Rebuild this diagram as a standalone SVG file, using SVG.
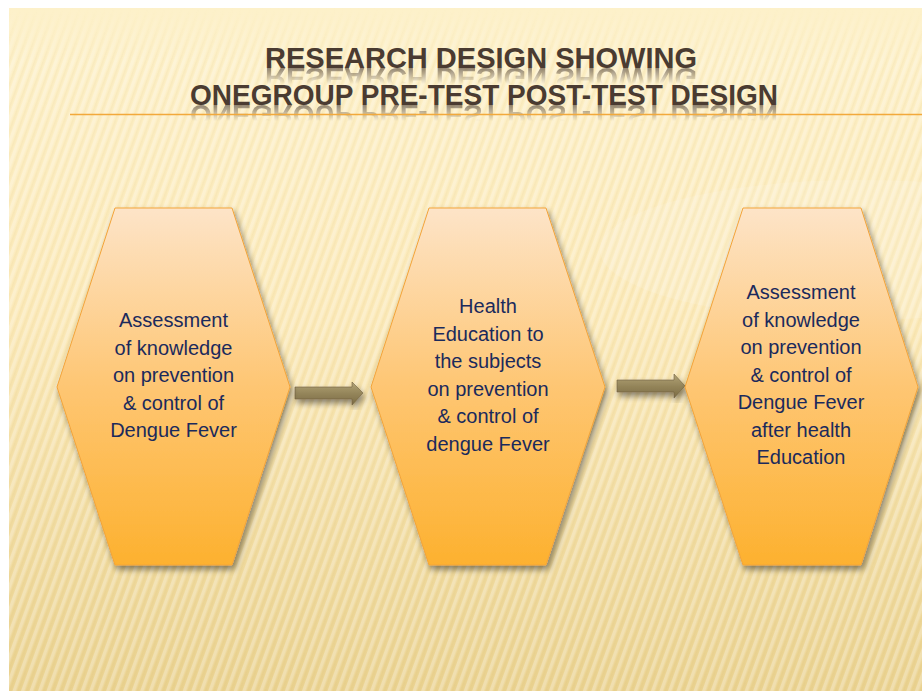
<svg xmlns="http://www.w3.org/2000/svg" width="922" height="691" viewBox="0 0 922 691">
  <defs>
    <linearGradient id="bg" x1="0" y1="0" x2="0" y2="1">
      <stop offset="0" stop-color="#fdf1ca"/>
      <stop offset="0.45" stop-color="#fbe9b8"/>
      <stop offset="1" stop-color="#ead290"/>
    </linearGradient>
    <pattern id="stripes" width="8" height="8" patternUnits="userSpaceOnUse" patternTransform="rotate(20)">
      <rect x="0" y="0" width="3.5" height="8" fill="#ffffff" opacity="0.28"/>
      <rect x="5" y="0" width="1.5" height="8" fill="#c8a850" opacity="0.07"/>
    </pattern>
    <linearGradient id="stripeFade" x1="0" y1="0" x2="0" y2="1">
      <stop offset="0" stop-color="#fff" stop-opacity="0"/>
      <stop offset="0.08" stop-color="#fff" stop-opacity="1"/>
      <stop offset="1" stop-color="#fff" stop-opacity="1"/>
    </linearGradient>
    <mask id="stripeMask">
      <rect x="9" y="8" width="913" height="683" fill="url(#stripeFade)"/>
    </mask>
    <linearGradient id="hexFill" x1="0" y1="0" x2="0" y2="1">
      <stop offset="0" stop-color="#fde4c8"/>
      <stop offset="0.5" stop-color="#fec673"/>
      <stop offset="1" stop-color="#fdb12f"/>
    </linearGradient>
    <linearGradient id="arrowFill" x1="0" y1="0" x2="0" y2="1">
      <stop offset="0" stop-color="#b3a477"/>
      <stop offset="0.5" stop-color="#94855a"/>
      <stop offset="1" stop-color="#7c6c44"/>
    </linearGradient>
    <filter id="shadow" x="-20%" y="-20%" width="140%" height="140%">
      <feGaussianBlur in="SourceAlpha" stdDeviation="3"/>
      <feOffset dx="2" dy="4" result="b"/>
      <feComponentTransfer><feFuncA type="linear" slope="0.45"/></feComponentTransfer>
      <feMerge><feMergeNode/><feMergeNode in="SourceGraphic"/></feMerge>
    </filter>
    <!-- fading masks for the mirrored title lines -->
    <linearGradient id="reflFade1" gradientUnits="userSpaceOnUse" x1="0" y1="68" x2="0" y2="84">
      <stop offset="0" stop-color="#fff" stop-opacity="0.6"/>
      <stop offset="1" stop-color="#fff" stop-opacity="0"/>
    </linearGradient>
    <linearGradient id="reflFade2" gradientUnits="userSpaceOnUse" x1="0" y1="105" x2="0" y2="121">
      <stop offset="0" stop-color="#fff" stop-opacity="0.6"/>
      <stop offset="1" stop-color="#fff" stop-opacity="0"/>
    </linearGradient>
    <mask id="reflMask1" maskUnits="userSpaceOnUse" x="0" y="0" width="922" height="691">
      <rect x="0" y="68" width="922" height="16" fill="url(#reflFade1)"/>
    </mask>
    <mask id="reflMask2" maskUnits="userSpaceOnUse" x="0" y="0" width="922" height="691">
      <rect x="0" y="105" width="922" height="16" fill="url(#reflFade2)"/>
    </mask>
    <style>
      .title { font-family: "Liberation Sans", Arial, sans-serif; font-weight: bold; font-size: 30px; fill: #4a3b31; }
      .label { font-family: "Liberation Sans", Arial, sans-serif; font-size: 20px; fill: #1b2a5c; text-anchor: middle; }
      .hex { fill: url(#hexFill); stroke: #f3a43a; stroke-width: 1; filter: url(#shadow); }
      .arrow { fill: url(#arrowFill); stroke: #6f6040; stroke-width: 0.6; filter: url(#shadow); }
    </style>
  </defs>

  <!-- slide background -->
  <rect x="0" y="0" width="922" height="691" fill="#ffffff"/>
  <rect x="9" y="8" width="913" height="683" fill="url(#bg)"/>
  <rect x="9" y="8" width="913" height="683" fill="url(#stripes)" mask="url(#stripeMask)"/>
  <ellipse cx="860" cy="250" rx="260" ry="70" fill="#ffffff" opacity="0.12"/>

  <!-- title -->
  <g id="title">
    <g mask="url(#reflMask1)">
      <use href="#titleLine1" transform="translate(0,136) scale(1,-1)"/>
    </g>
    <g mask="url(#reflMask2)">
      <use href="#titleLine2" transform="translate(0,210) scale(1,-1)"/>
    </g>
    <text id="titleLine1" class="title" x="265" y="68" textLength="432" lengthAdjust="spacingAndGlyphs">RESEARCH DESIGN SHOWING</text>
    <text id="titleLine2" class="title" x="190" y="105" textLength="588" lengthAdjust="spacingAndGlyphs">ONEGROUP PRE-TEST POST-TEST DESIGN</text>
    <line x1="70" y1="114.5" x2="922" y2="114.5" stroke="#f2a93b" stroke-width="1.3"/>
  </g>

  <!-- connectors -->
  <g id="connectors">
    <path class="arrow" d="M295,387 H352 V382 L363,393 L352,405 V399 H295 Z"/>
    <path class="arrow" d="M617,380 H674 V374 L685,386 L674,398 V392 H617 Z"/>
  </g>

  <!-- step 1 -->
  <g id="node-pretest">
    <polygon class="hex" points="115,208 232,208 290,387 232,565 115,565 57,387"/>
    <text class="label" x="173.5" y="327">Assessment</text>
    <text class="label" x="173.5" y="354.5">of knowledge</text>
    <text class="label" x="173.5" y="382">on prevention</text>
    <text class="label" x="173.5" y="409.5">&amp; control of</text>
    <text class="label" x="173.5" y="437">Dengue Fever</text>
  </g>

  <!-- step 2 -->
  <g id="node-intervention">
    <polygon class="hex" points="429,208 546,208 605,387 546,565 429,565 371,387"/>
    <text class="label" x="488" y="313">Health</text>
    <text class="label" x="488" y="340.5">Education to</text>
    <text class="label" x="488" y="368">the subjects</text>
    <text class="label" x="488" y="395.5">on prevention</text>
    <text class="label" x="488" y="423">&amp; control of</text>
    <text class="label" x="488" y="450.5">dengue Fever</text>
  </g>

  <!-- step 3 -->
  <g id="node-posttest">
    <polygon class="hex" points="743,208 861,208 918,387 861,565 743,565 685,387"/>
    <text class="label" x="801" y="299">Assessment</text>
    <text class="label" x="801" y="326.5">of knowledge</text>
    <text class="label" x="801" y="354">on prevention</text>
    <text class="label" x="801" y="381.5">&amp; control of</text>
    <text class="label" x="801" y="409">Dengue Fever</text>
    <text class="label" x="801" y="436.5">after health</text>
    <text class="label" x="801" y="464">Education</text>
  </g>
</svg>
